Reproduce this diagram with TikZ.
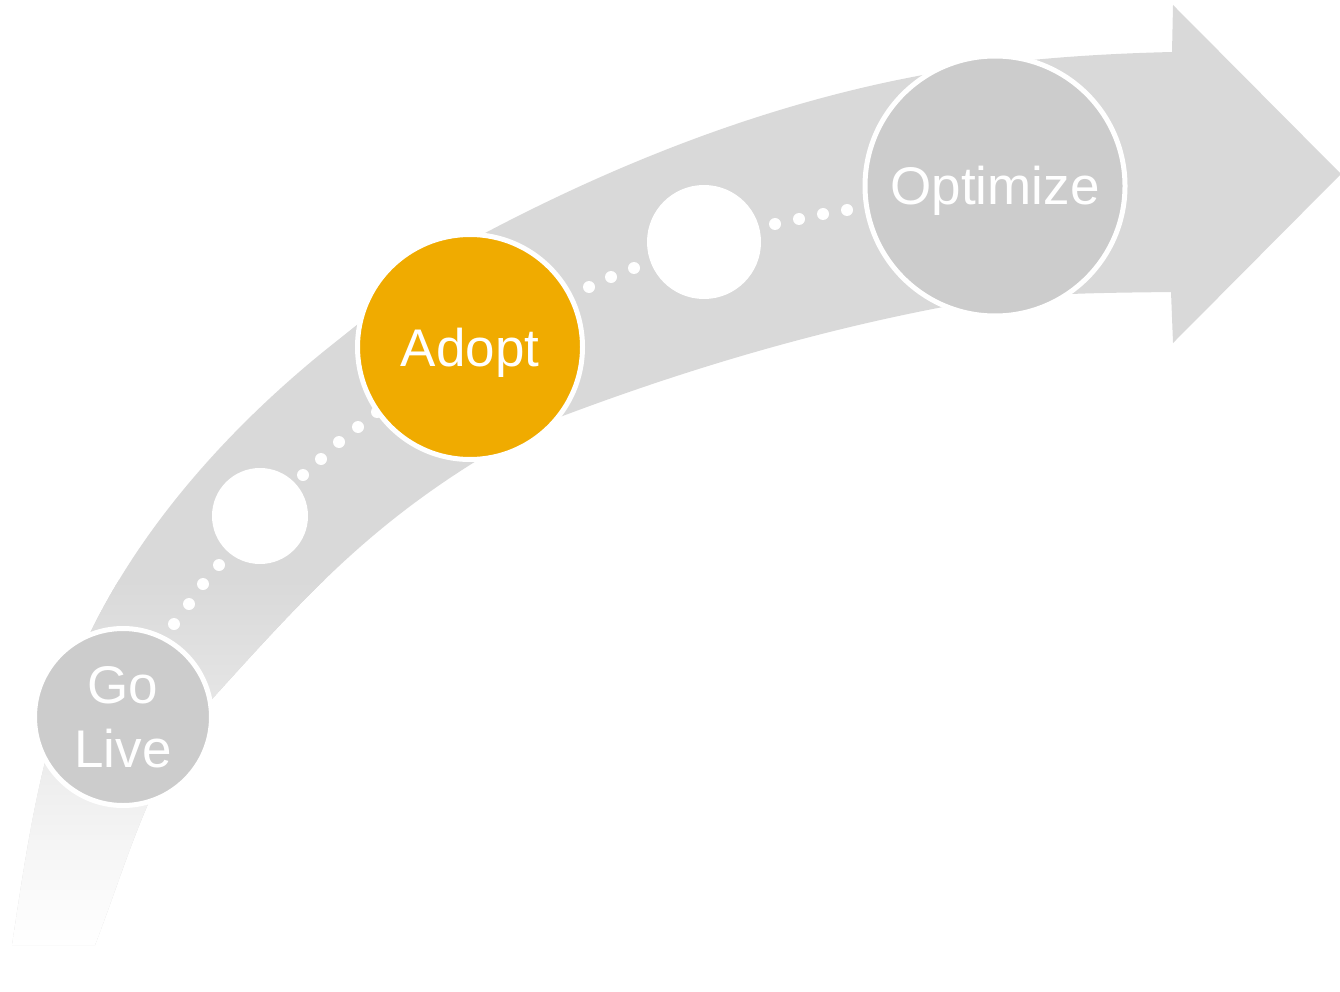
\documentclass[tikz,border=0pt]{standalone}
\usepackage{fontspec}
\setmainfont{Liberation Sans}
\definecolor{bandgray}{HTML}{D9D9D9}
\definecolor{stagegray}{HTML}{CCCCCC}
\definecolor{adoptorange}{HTML}{F0AB00}
\tikzset{
	stage/.style={circle, draw=white, line width=5pt, inner sep=0pt, text=white, align=center, font=\fontsize{53}{64}\selectfont},
	oneline/.style={text height=38pt, text depth=0pt},
	hole/.style={circle, fill=white, inner sep=0pt},
}
\begin{document}
\begin{tikzpicture}[x=1pt, y=-1pt, line join=round, line cap=round]
	\useasboundingbox (0,0) rectangle (1340,992);
	\def\fadetop{580} \def\fadestep{5} % fade of the band
	% band with arrow head
	\fill[bandgray, path picture={
		\foreach \i [evaluate=\i as \p using {100-100*\i/72}, evaluate=\i as \yy using {\fadetop+\fadestep*\i}] in {0,...,72}
		\fill[bandgray!\p] (0,\yy) rectangle (500,\yy+\fadestep+0.5);}]
		(12,945) .. controls (28.5,836) and (44,725) .. (93,627)
		.. controls (149,515) and (240,417) .. (338,340)
		.. controls (377,309) and (443,255) .. (487,232)
		.. controls (624,160) and (771,103) .. (923,75)
		.. controls (1005,60) and (1089,54) .. (1172,52)
		-- (1173,5) -- (1341,174) -- (1173,343) -- (1171,292)
		.. controls (1095,293) and (1018,293) .. (943,307)
		.. controls (812,332) and (684.5,370) .. (560,417)
		.. controls (532,427.5) and (498,447) .. (473,463)
		.. controls (363,532) and (300,602) .. (213,698)
		.. controls (152,765) and (128,860) .. (95,945)
		-- cycle;
	% dots
	\foreach \s/\t in {174/624, 189/604, 203/584, 219/565, 303/475, 321/459, 339/442, 358/427, 377/412, 589/287, 611/277, 634/268, 775/224, 799/219, 823/214, 847/210}
	\fill[white] (\s,\t) circle (6);
	\node[hole, minimum size=96pt] (s1) at (260,516) {};
	\node[hole, minimum size=114pt] (s2) at (704,242) {};
	\node[stage, fill=stagegray, minimum size=177pt] (golive) at (123,717) {Go\\Live};
	\node[stage, oneline, fill=adoptorange, minimum size=225pt] (adopt) at (470,347) {Adopt};
	\node[stage, oneline, fill=stagegray, minimum size=260pt] (optimize) at (995,186) {Optimize};
\end{tikzpicture}
\end{document}
